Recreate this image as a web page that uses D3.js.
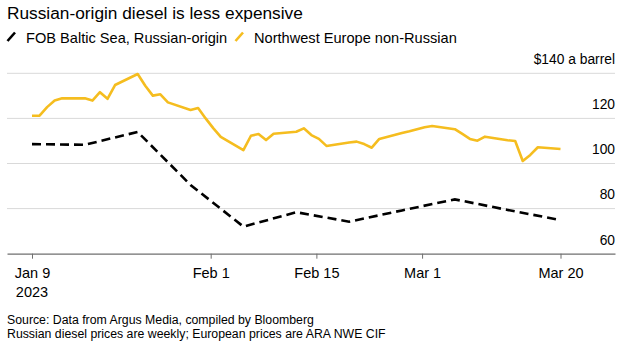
<!DOCTYPE html>
<html>
<head>
<meta charset="utf-8">
<script src="https://cdn.jsdelivr.net/npm/d3@7"></script>
<style>
    body { margin: 0; background: #fff; }
    text { font-family: "Liberation Sans", Arial, sans-serif; fill: #000; }
</style>
</head>
<body>
<svg id="drawing_region"></svg>
<script>
// Northwest Europe non-Russian, daily
const nweDates = [
    "2023-01-09","2023-01-10","2023-01-11","2023-01-12","2023-01-13",
    "2023-01-16","2023-01-17","2023-01-18","2023-01-19","2023-01-20",
    "2023-01-23","2023-01-24","2023-01-25","2023-01-26","2023-01-27",
    "2023-01-30","2023-01-31","2023-02-01","2023-02-02","2023-02-03",
    "2023-02-06","2023-02-07","2023-02-08","2023-02-09","2023-02-10",
    "2023-02-13","2023-02-14","2023-02-15","2023-02-16","2023-02-17",
    "2023-02-20","2023-02-21","2023-02-22","2023-02-23","2023-02-24",
    "2023-02-27","2023-02-28","2023-03-01","2023-03-02","2023-03-03",
    "2023-03-06","2023-03-07","2023-03-08","2023-03-09","2023-03-10",
    "2023-03-13","2023-03-14","2023-03-15","2023-03-16","2023-03-17",
    "2023-03-20"
];
const nweValues = [
    121.2, 121.2, 125.0, 127.9, 128.9,
    128.9, 127.9, 131.6, 128.7, 134.8,
    139.7, 134.5, 130.1, 130.7, 127.1,
    123.7, 124.6, 120.0, 115.7, 111.8,
    105.9, 112.3, 113.1, 110.4, 113.2,
    114.1, 115.6, 112.6, 110.9, 107.8,
    109.3, 109.7, 108.6, 107.0, 110.9,
    113.5, 114.3, 115.2, 116.1, 116.6,
    115.2, 113.1, 110.9, 110.1, 111.9,
    110.3, 110.0, 101.1, 103.8, 107.2,
    106.4
];

// FOB Baltic Sea, Russian-origin, weekly
const rusDates = [
    "2023-01-09","2023-01-16","2023-01-23","2023-01-30","2023-02-06",
    "2023-02-13","2023-02-20","2023-02-27","2023-03-06","2023-03-13",
    "2023-03-20"
];
const rusValues = [108.6, 108.3, 114.0, 90.5, 72.0, 78.4, 74.2, 79.2, 84.1, 79.4, 74.9];

const yTicks = [60, 80, 100, 120, 140];
const xTicks = ["2023-01-09", "2023-02-01", "2023-02-15", "2023-03-01", "2023-03-20"];
const xTickLabels = ["Jan 9", "Feb 1", "Feb 15", "Mar 1", "Mar 20"];

const config = {
    width: 629,
    height: 351,
    left: 7,
    right: 615,
    data_left: 32,
    data_right: 560.5,
    top: 73.3,
    bottom: 253.7
};

const parse = d3.timeParse("%Y-%m-%d");
const nwe = nweDates.map((d, i) => ({ date: parse(d), value: nweValues[i] }));
const rus = rusDates.map((d, i) => ({ date: parse(d), value: rusValues[i] }));

const svg = d3.select('#drawing_region')
    .attr('width', config.width)
    .attr('height', config.height);

const x = d3.scaleTime()
    .domain([parse(nweDates[0]), parse(nweDates[nweDates.length - 1])])
    .range([config.data_left, config.data_right]);

// axis spans the full plot width
const x_axis_scale = x.copy()
    .domain([x.invert(config.left), x.invert(config.right)])
    .range([config.left, config.right]);

const y = d3.scaleLinear()
    .domain([60, 140])
    .range([config.bottom, config.top]);

// title + legend
svg.append('text')
    .attr('x', 7).attr('y', 18.5)
    .style('font-size', '17.3px')
    .text('Russian-origin diesel is less expensive');

const legend = [
    { label: 'FOB Baltic Sea, Russian-origin', color: '#000', x: 7 },
    { label: 'Northwest Europe non-Russian', color: '#f5bd1f', x: 235 }
];
legend.forEach(l => {
    svg.append('line')
        .attr('x1', l.x + 0.5).attr('y1', 41)
        .attr('x2', l.x + 8).attr('y2', 32.5)
        .attr('stroke', l.color)
        .attr('stroke-width', 2.6);
    svg.append('text')
        .attr('x', l.x + 19).attr('y', 42.5)
        .style('font-size', '14.6px')
        .text(l.label);
});

// gridlines
svg.append('g')
    .selectAll('line')
    .data(yTicks.filter(d => d > 60))
    .enter()
    .append('line')
    .attr('x1', config.left).attr('x2', config.right)
    .attr('y1', d => y(d)).attr('y2', d => y(d))
    .attr('stroke', '#d9d9d9')
    .attr('stroke-width', 1);

// y labels sit above their gridline
const yaxis = d3.axisRight(y)
    .tickValues(yTicks)
    .tickSize(0)
    .tickFormat(d => d === 140 ? '$140 a barrel' : d);

const yaxis_group = svg.append('g')
    .attr('transform', `translate(${config.right}, 0)`)
    .call(yaxis);
yaxis_group.select('.domain').remove();
yaxis_group.selectAll('text')
    .attr('x', 0)
    .attr('dy', '-0.7em')
    .attr('text-anchor', 'end')
    .style('font-family', '"Liberation Sans", Arial, sans-serif')
    .style('font-size', '13.8px')
    .attr('fill', '#000');

// x axis
// month ticks in the original sit a little right of midnight
const xTickValues = xTicks.map((d, i) => {
    const t = parse(d);
    if (i > 0 && i < xTicks.length - 1) t.setHours(16);
    return t;
});

const xaxis = d3.axisBottom(x_axis_scale)
    .tickValues(xTickValues)
    .tickSize(5)
    .tickSizeOuter(0)
    .tickPadding(9)
    .tickFormat((d, i) => xTickLabels[i]);

const xaxis_group = svg.append('g')
    .attr('transform', `translate(0, ${config.bottom})`)
    .call(xaxis);
xaxis_group.select('.domain').attr('stroke', '#6f6f6f').attr('stroke-width', 1.2);
xaxis_group.selectAll('.tick line').attr('stroke', '#6f6f6f');
xaxis_group.selectAll('text')
    .style('font-family', '"Liberation Sans", Arial, sans-serif')
    .style('font-size', '14.5px')
    .attr('fill', '#000');

svg.append('text')
    .attr('x', x(parse(xTicks[0])))
    .attr('y', 297)
    .attr('text-anchor', 'middle')
    .style('font-size', '14.5px')
    .text('2023');

// lines
const line = d3.line()
    .x(d => x(d.date))
    .y(d => y(d.value));

svg.append('path')
    .datum(nwe)
    .attr('fill', 'none')
    .attr('stroke', '#f5bd1f')
    .attr('stroke-width', 2.6)
    .attr('stroke-linejoin', 'round')
    .attr('d', line);

svg.append('path')
    .datum(rus)
    .attr('fill', 'none')
    .attr('stroke', '#000')
    .attr('stroke-width', 2.6)
    .attr('stroke-dasharray', '9,5')
    .attr('d', line);

// footnotes
svg.append('text')
    .attr('x', 7).attr('y', 324)
    .style('font-size', '12.3px')
    .text('Source: Data from Argus Media, compiled by Bloomberg');
svg.append('text')
    .attr('x', 7).attr('y', 338)
    .style('font-size', '12.3px')
    .text('Russian diesel prices are weekly; European prices are ARA NWE CIF');
</script>
</body>
</html>
